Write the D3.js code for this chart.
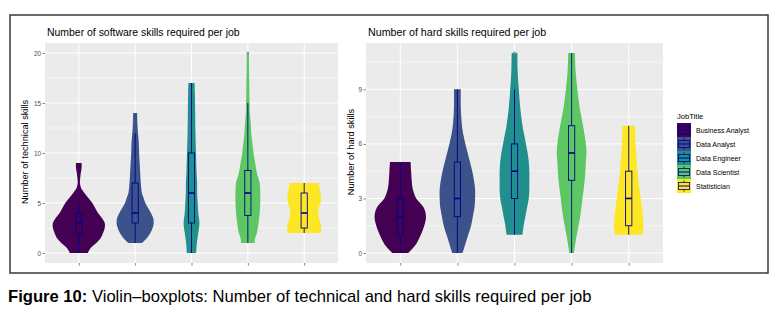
<!DOCTYPE html>
<html>
<head>
<meta charset="utf-8">
<script src="https://cdn.jsdelivr.net/npm/d3@7"></script>
<style>
  body { margin: 0; background: #fff; }
  svg { display: block; font-family: "Liberation Sans", Arial, sans-serif; }
  .tick text { fill: #4d4d4d; font-size: 6.4px; }
  .tick line { stroke: #333; stroke-width: 0.6; }
</style>
</head>
<body>
<svg id="chart" width="779" height="320"></svg>
<script>
// job categories and fill colours
const jobs = ["Business Analyst", "Data Analyst", "Data Engineer", "Data Scientist", "Statistician"]
const jobColors = ["#440154", "#3b528b", "#21908c", "#5dc863", "#fde725"]

// violin outlines: [value, half width as share of category step]
const softViolins = [
  [[0,0.16],[0.5,0.21],[1,0.31],[1.5,0.39],[2,0.43],[2.5,0.46],[3,0.46],[3.5,0.41],[4,0.34],[4.5,0.29],[5,0.24],[5.5,0.17],[6,0.10],[6.5,0.04],[7,0.02],[7.5,0.025],[8,0.035],[8.5,0.05],[9,0.05]],
  [[1,0.12],[1.5,0.21],[2,0.27],[2.5,0.31],[3,0.33],[3.5,0.32],[4,0.28],[4.5,0.23],[5,0.18],[5.5,0.15],[6,0.12],[7,0.10],[8,0.09],[9,0.08],[10,0.07],[11,0.065],[12,0.05],[13,0.04],[14,0.035]],
  [[0,0.083],[1,0.095],[2,0.12],[3,0.14],[4,0.12],[5,0.11],[6,0.10],[7,0.10],[8,0.09],[10,0.08],[12,0.07],[14,0.065],[16,0.06],[17,0.055]],
  [[1,0.12],[1.5,0.13],[2,0.16],[3,0.19],[4,0.21],[5,0.22],[6,0.22],[7,0.21],[8,0.16],[9,0.13],[10,0.10],[11,0.08],[12,0.06],[13,0.05],[14,0.035],[15,0.03],[17,0.025],[19,0.02],[20,0.02]],
  [[2,0.30],[2.5,0.30],[3,0.29],[3.5,0.26],[4,0.25],[4.5,0.26],[5,0.29],[5.5,0.30],[6,0.29],[6.5,0.27],[7,0.26]]
]
const hardViolins = [
  [[0,0.14],[0.5,0.28],[1,0.36],[1.5,0.42],[2,0.45],[2.5,0.41],[3,0.28],[3.5,0.22],[4,0.20],[4.5,0.19],[5,0.18]],
  [[0,0.09],[0.5,0.14],[1,0.19],[1.5,0.24],[2,0.27],[2.5,0.30],[3,0.31],[3.5,0.31],[4,0.29],[4.5,0.26],[5,0.22],[5.5,0.18],[6,0.14],[6.5,0.105],[7,0.08],[8,0.06],[9,0.06]],
  [[1,0.14],[1.5,0.16],[2,0.19],[2.5,0.22],[3,0.25],[3.5,0.26],[4,0.26],[4.5,0.26],[5,0.25],[5.5,0.23],[6,0.20],[6.5,0.17],[7,0.14],[8,0.10],[9,0.075],[10,0.055],[11,0.05]],
  [[0,0.04],[1,0.09],[2,0.15],[3,0.19],[4,0.23],[5,0.25],[5.5,0.26],[6,0.25],[7,0.20],[8,0.14],[9,0.10],[10,0.07],[11,0.06]],
  [[1,0.24],[1.5,0.26],[2,0.25],[2.5,0.23],[3,0.21],[3.5,0.19],[4,0.17],[5,0.14],[6,0.12],[7,0.11]]
]

// box stats: [lower whisker, q1, median, q3, upper whisker]
const softBoxes = [[0,2,3,4,5],[1,3,4,7,12],[0,3,6,10,17],[1,3.75,6,8.25,15],[2,2.5,4,6,7]]
const hardBoxes = [[0,1,2,3,5],[0,2,3,5,9],[1,3,4.5,6,9],[0,4,5.5,7,11],[1,1.5,3,4.5,7]]
const softOutliers = [[], [], [], [20], []]
const hardOutliers = [[], [], [11], [], []]

// axis breaks
const softMajor = [0, 5, 10, 15, 20]
const softMinor = [2.5, 7.5, 12.5, 17.5]
const hardMajor = [0, 3, 6, 9]
const hardMinor = [1.5, 4.5, 7.5, 10.5]

const svg = d3.select("#chart")
const boxStroke = "#00008b"

// outer frame
svg.append("rect")
  .attr("x", 10).attr("y", 15).attr("width", 758).attr("height", 258)
  .attr("fill", "#fff").attr("stroke", "#3a3a3a").attr("stroke-width", 1.5)

function draw_panel(cfg) {
  const x = d3.scalePoint().domain(jobs).range([cfg.left, cfg.right]).padding(0.6)
  const y = d3.scaleLinear().domain(cfg.domain).range([263, 43])
  const step = x.step()
  const g = svg.append("g")

  g.append("rect")
    .attr("x", cfg.left).attr("y", 43)
    .attr("width", cfg.right - cfg.left).attr("height", 220)
    .attr("fill", "#ebebeb")

  // grid lines
  g.selectAll(".minor").data(cfg.minor).enter().append("line")
    .attr("x1", cfg.left).attr("x2", cfg.right)
    .attr("y1", d => y(d)).attr("y2", d => y(d))
    .attr("stroke", "#fff").attr("stroke-width", 0.5)
  g.selectAll(".major").data(cfg.major).enter().append("line")
    .attr("x1", cfg.left).attr("x2", cfg.right)
    .attr("y1", d => y(d)).attr("y2", d => y(d))
    .attr("stroke", "#fff").attr("stroke-width", 1)
  g.selectAll(".vgrid").data(jobs).enter().append("line")
    .attr("x1", d => x(d)).attr("x2", d => x(d))
    .attr("y1", 43).attr("y2", 263)
    .attr("stroke", "#fff").attr("stroke-width", 1)

  // violins
  const area = d3.area()
    .curve(d3.curveCatmullRom)
    .y(p => y(p[0]))
  cfg.violins.forEach((prof, i) => {
    const cx = x(jobs[i])
    g.append("path")
      .datum(prof)
      .attr("d", area.x0(p => cx - p[1] * step).x1(p => cx + p[1] * step))
      .attr("fill", jobColors[i])
  })

  // boxplots
  const bw = step * 0.055
  cfg.boxes.forEach((b, i) => {
    const cx = x(jobs[i])
    g.append("line")
      .attr("x1", cx).attr("x2", cx).attr("y1", y(b[0])).attr("y2", y(b[1]))
      .attr("stroke", boxStroke).attr("stroke-width", 0.9)
    g.append("line")
      .attr("x1", cx).attr("x2", cx).attr("y1", y(b[3])).attr("y2", y(b[4]))
      .attr("stroke", boxStroke).attr("stroke-width", 0.9)
    g.append("rect")
      .attr("x", cx - bw).attr("width", bw * 2)
      .attr("y", y(b[3])).attr("height", y(b[1]) - y(b[3]))
      .attr("fill", jobColors[i]).attr("stroke", boxStroke).attr("stroke-width", 0.9)
    g.append("line")
      .attr("x1", cx - bw).attr("x2", cx + bw).attr("y1", y(b[2])).attr("y2", y(b[2]))
      .attr("stroke", boxStroke).attr("stroke-width", 1.6)
    g.selectAll(null).data(cfg.outliers[i]).enter().append("circle")
      .attr("cx", cx).attr("cy", d => y(d)).attr("r", 1.4)
      .attr("fill", "#8a8aa8").attr("opacity", 0.8)
  })

  // axes
  g.append("g")
    .attr("transform", `translate(${cfg.left},0)`)
    .call(d3.axisLeft(y).tickValues(cfg.major).tickSize(2.5).tickPadding(1.5))
    .call(a => a.select(".domain").remove())
  g.append("g")
    .attr("transform", "translate(0,263)")
    .call(d3.axisBottom(x).tickFormat("").tickSize(2.5))
    .call(a => a.select(".domain").remove())

  // titles
  g.append("text")
    .attr("x", cfg.left + 2).attr("y", 36)
    .attr("font-size", cfg.titleSize).attr("fill", "#000")
    .text(cfg.title)
  g.append("text")
    .attr("transform", `translate(${cfg.ylabX},${cfg.ylabY}) rotate(-90)`)
    .attr("text-anchor", "middle")
    .attr("font-size", 9.2).attr("fill", "#000")
    .text(cfg.ylab)
}

draw_panel({
  left: 45, right: 338, domain: [-1, 21],
  major: softMajor, minor: softMinor,
  violins: softViolins, boxes: softBoxes, outliers: softOutliers,
  title: "Number of software skills required per job", titleSize: 10.45,
  ylab: "Number of technical skills", ylabX: 28, ylabY: 152
})
draw_panel({
  left: 366, right: 663, domain: [-0.55, 11.55],
  major: hardMajor, minor: hardMinor,
  violins: hardViolins, boxes: hardBoxes, outliers: hardOutliers,
  title: "Number of hard skills required per job", titleSize: 10.7,
  ylab: "Number of hard skills", ylabX: 354, ylabY: 152
})

// legend
const legend = svg.append("g").attr("transform", "translate(677,123)")
legend.append("text")
  .attr("x", 0).attr("y", -4)
  .attr("font-size", 7.6).attr("fill", "#000")
  .text("JobTitle")
const key = legend.selectAll(".key").data(jobs).enter().append("g")
  .attr("transform", (d, i) => `translate(0,${i * 14})`)
key.append("rect")
  .attr("width", 14).attr("height", 14)
  .attr("fill", (d, i) => jobColors[i])
key.append("line")
  .attr("x1", 7).attr("x2", 7).attr("y1", 1.4).attr("y2", 12.6)
  .attr("stroke", boxStroke).attr("stroke-width", 0.8)
key.append("rect")
  .attr("x", 1.4).attr("y", 3.5).attr("width", 11.2).attr("height", 7)
  .attr("fill", (d, i) => jobColors[i])
  .attr("stroke", boxStroke).attr("stroke-width", 0.8)
key.append("line")
  .attr("x1", 1.4).attr("x2", 12.6).attr("y1", 7).attr("y2", 7)
  .attr("stroke", boxStroke).attr("stroke-width", 1)
key.append("text")
  .attr("x", 19).attr("y", 9.5)
  .attr("font-size", 7).attr("fill", "#000")
  .text(d => d)

// caption
const cap = svg.append("text")
  .attr("x", 8).attr("y", 302)
  .attr("font-size", 16.6).attr("fill", "#000")
cap.append("tspan").attr("font-weight", "bold").text("Figure 10:")
cap.append("tspan").text(" Violin–boxplots: Number of technical and hard skills required per job")
</script>
</body>
</html>
